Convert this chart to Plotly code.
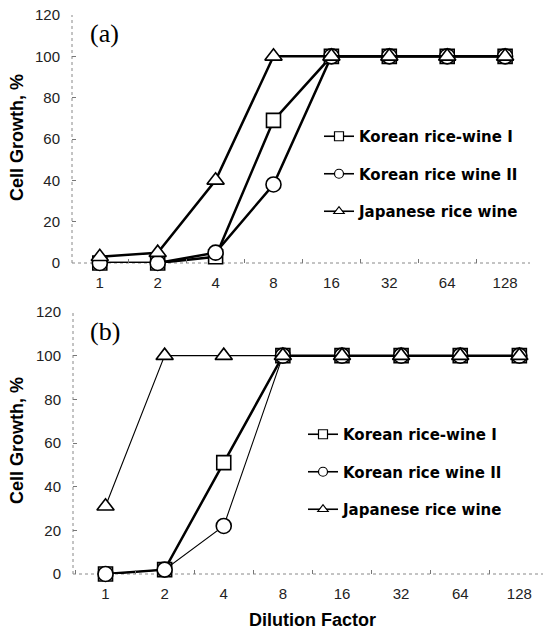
import plotly.graph_objects as go

# ---------------- data ----------------
dilution = ["1", "2", "4", "8", "16", "32", "64", "128"]

series_names = ["Korean rice-wine I", "Korean rice wine II", "Japanese rice wine"]

# panel (a)
a_korean1 = [0, 0, 3, 69, 100, 100, 100, 100]
a_korean2 = [0, 0, 5, 38, 100, 100, 100, 100]
a_japanese = [3, 5, 40, 100, 100, 100, 100, 100]

# panel (b)
b_korean1 = [0, 2, 51, 100, 100, 100, 100, 100]
b_korean2 = [0, 2, 22, 100, 100, 100, 100, 100]
b_japanese = [31, 100, 100, 100, 100, 100, 100, 100]

y_ticks = [0, 20, 40, 60, 80, 100, 120]

# ---------------- styling ----------------
symbols = ["square", "circle", "triangle-up"]
msizes = [14, 15, 15]
a_widths = [2.5, 2.5, 2.5]
b_widths = [2.5, 1.1, 1.1]

W, H = 548, 634


def px(x):
    return x / W


def py(y):
    return (H - y) / H


fig = go.Figure()

panels = [
    ("x", "y", "legend", [a_korean1, a_korean2, a_japanese], a_widths, "a"),
    ("x2", "y2", "legend2", [b_korean1, b_korean2, b_japanese], b_widths, "b"),
]

for xa, ya, leg, data, widths, tag in panels:
    for i, (name, vals) in enumerate(zip(series_names, data)):
        fig.add_trace(go.Scatter(
            x=dilution, y=vals, xaxis=xa, yaxis=ya, name=name,
            mode="lines+markers", showlegend=False, cliponaxis=False,
            line=dict(color="black", width=widths[i]),
            marker=dict(symbol=symbols[i], size=msizes[i], color="white",
                        line=dict(color="black", width=1.6)),
        ))
    # legend entries (small symbols like the reference key)
    for i, name in enumerate(series_names):
        fig.add_trace(go.Scatter(
            x=[None], y=[None], xaxis=xa, yaxis=ya, name=name,
            mode="lines+markers", legend=leg, legendgroup=tag + str(i),
            line=dict(color="black", width=1.6),
            marker=dict(symbol=symbols[i], size=9, color="white",
                        line=dict(color="black", width=1.2)),
        ))

tick_font = dict(family="Liberation Sans, Arial, sans-serif", size=15, color="#222")


def xaxis_cfg(domain, rng, anchor):
    return dict(domain=domain, range=rng, anchor=anchor, type="category",
                categoryorder="array", categoryarray=dilution,
                showgrid=False, zeroline=False, showline=False,
                ticks="inside", ticklen=4, tickcolor="#777", tickson="boundaries",
                tickfont=tick_font, ticklabelstandoff=9, automargin=False)


def yaxis_cfg(domain, anchor):
    return dict(domain=domain, range=[0, 120], anchor=anchor,
                tickvals=y_ticks, showgrid=False, zeroline=False, showline=False,
                ticks="inside", ticklen=4, tickcolor="#777",
                tickfont=tick_font, ticklabelstandoff=11, automargin=False,
                ticklabeloverflow="allow")


legend_font = dict(family="DejaVu Sans", size=15, color="black", weight="bold")

fig.update_layout(
    width=W, height=H,
    margin=dict(l=0, r=0, t=0, b=0),
    paper_bgcolor="white", plot_bgcolor="white",
    xaxis=xaxis_cfg([px(72), px(530)], [-0.48, 7.43], "y"),
    yaxis=yaxis_cfg([py(263), py(15)], "x"),
    xaxis2=xaxis_cfg([px(73), px(543)], [-0.55, 7.4], "y2"),
    yaxis2=yaxis_cfg([py(574), py(312)], "x2"),
    legend=dict(x=px(319), y=py(120), xanchor="left", yanchor="top",
                bgcolor="rgba(0,0,0,0)", tracegroupgap=15, font=legend_font),
    legend2=dict(x=px(303), y=py(418), xanchor="left", yanchor="top",
                 bgcolor="rgba(0,0,0,0)", tracegroupgap=15, font=legend_font),
    showlegend=True,
)

# axis lines (light dotted like the scanned figure)
for xd, yd in [("x domain", "y domain"), ("x2 domain", "y2 domain")]:
    fig.add_shape(type="line", xref=xd, yref=yd, x0=0, x1=0, y0=0, y1=1,
                  line=dict(color="#888", width=1, dash="dot"), layer="below")
    fig.add_shape(type="line", xref=xd, yref=yd, x0=0, x1=1, y0=0, y1=0,
                  line=dict(color="#888", width=1, dash="dot"), layer="below")

title_font = dict(family="Liberation Sans, Arial, sans-serif", size=18, color="black", weight="bold")
label_font = dict(family="Liberation Serif, Times New Roman, serif", size=26, color="black")

annotations = [
    dict(text="Cell Growth, %", x=px(17), y=py(138), textangle=-90, font=title_font),
    dict(text="Cell Growth, %", x=px(17), y=py(441), textangle=-90, font=title_font),
    dict(text="Dilution Factor", x=px(312), y=py(620), font=title_font),
    dict(text="(a)", x=px(104), y=py(33), font=label_font),
    dict(text="(b)", x=px(105), y=py(331), font=label_font),
]
for a in annotations:
    a.update(xref="paper", yref="paper", showarrow=False, xanchor="center", yanchor="middle")
fig.update_layout(annotations=annotations)

# remove the browser's default body margin so the figure fills the window exactly
fig.write_html("out.html", config={"displayModeBar": False},
               post_script="document.body.style.margin='0px';")
